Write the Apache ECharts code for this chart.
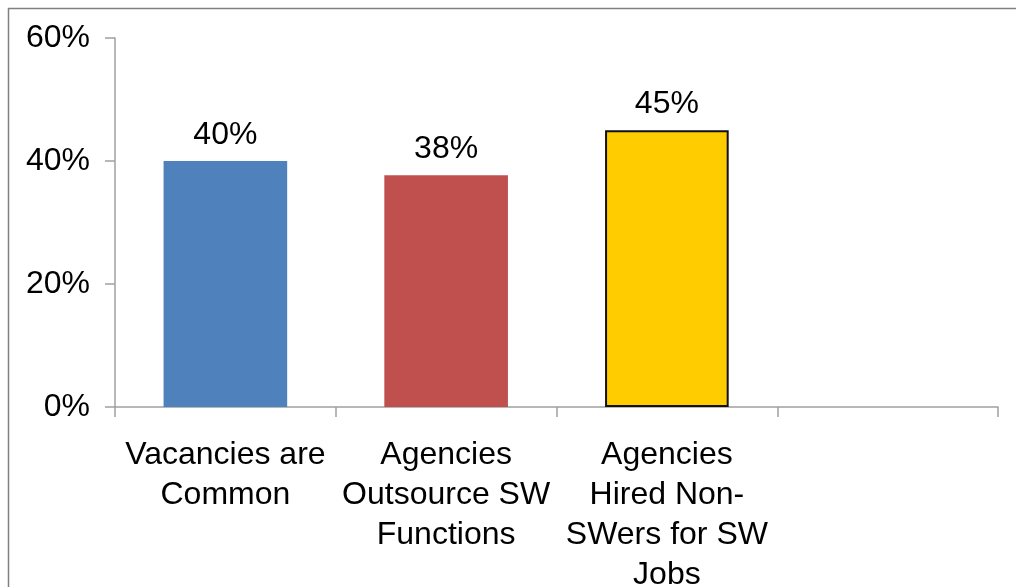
<!DOCTYPE html>
<html>
<head>
<meta charset="utf-8">
<script src="https://cdn.jsdelivr.net/npm/echarts@6/dist/echarts.min.js"></script>
<style>
html,body{margin:0;padding:0;background:#fff;}
#chart{width:1016px;height:587px;}
</style>
</head>
<body>
<div id="chart"></div>
<script>
const categories = ["Vacancies are\nCommon", "Agencies\nOutsource SW\nFunctions", "Agencies\nHired Non-\nSWers for SW\nJobs", ""];
const values = [40, 37.7, 45, null];
const barColors = ["#4F81BD", "#C0504D", "#FFCC00", "#FFFFFF"];
const barBorders = [null, null, "#111111", null];
const yTicks = [0, 20, 40, 60];

const chart = echarts.init(document.getElementById('chart'), null, {renderer: 'canvas'});
const FONT = '"Liberation Sans", Arial, sans-serif';

const option = {
  backgroundColor: '#ffffff',
  animation: false,
  graphic: [{
    type: 'rect',
    shape: {x: 8.5, y: 8.5, width: 1100, height: 700},
    style: {fill: 'none', stroke: '#808080', lineWidth: 1.5},
    silent: true,
    z: 0
  }],
  grid: {left: 115, right: 18, top: 38, bottom: 180, containLabel: false, outerBoundsMode: 'none'},
  xAxis: {
    type: 'category',
    data: categories,
    axisLine: {lineStyle: {color: '#a0a0a0', width: 1.5}},
    axisTick: {show: true, length: 10, lineStyle: {color: '#a0a0a0', width: 1.5}},
    axisLabel: {
      color: '#000', fontFamily: FONT, fontSize: 32, lineHeight: 40,
      margin: 28, interval: 0, align: 'center'
    },
    splitLine: {show: false}
  },
  yAxis: {
    type: 'value',
    min: yTicks[0],
    max: yTicks[yTicks.length - 1],
    interval: 20,
    axisLine: {show: true, lineStyle: {color: '#a0a0a0', width: 1.5}},
    axisTick: {show: true, length: 10, lineStyle: {color: '#a0a0a0', width: 1.5}},
    axisLabel: {
      color: '#000', fontFamily: FONT, fontSize: 32, margin: 25,
      formatter: v => v + '%'
    },
    splitLine: {show: false}
  },
  series: [{
    type: 'bar',
    barWidth: '56%',
    data: values.map((v, i) => ({
      value: v,
      itemStyle: {
        color: barColors[i],
        borderColor: barBorders[i] || barColors[i],
        borderWidth: barBorders[i] ? 2 : 0
      }
    })),
    label: {
      show: true,
      position: 'top',
      distance: 10,
      color: '#000',
      fontFamily: FONT,
      fontSize: 32,
      formatter: p => (p.value == null ? '' : Math.round(p.value) + '%')
    }
  }]
};
chart.setOption(option);
</script>
</body>
</html>
